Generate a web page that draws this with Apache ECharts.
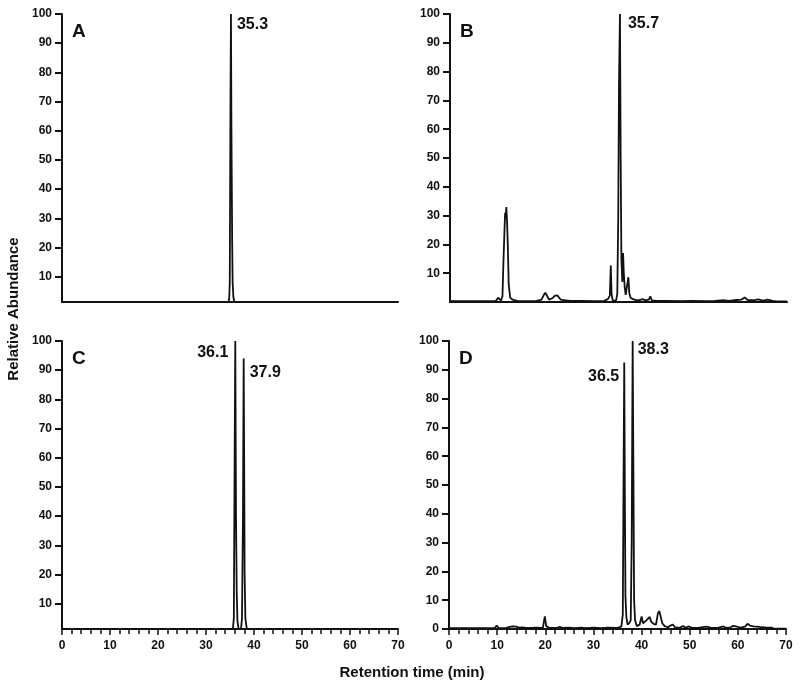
<!DOCTYPE html>
<html>
<head>
<meta charset="utf-8">
<script src="https://cdn.jsdelivr.net/npm/echarts@6/dist/echarts.min.js"></script>
<style>html,body{margin:0;padding:0;background:#fff}#c{width:800px;height:688px}</style>
</head>
<body>
<div id="c"></div>
<script>
// ---- data ----
const timeA = [0, 34.7, 34.85, 34.95, 35.1, 35.2, 35.3, 35.45, 35.55, 35.7, 35.9, 70];
const absA  = [1.3, 1.3, 3, 8, 70, 100, 60, 22, 8, 3, 1.3, 1.3];

const timeB = [0, 9.5, 10.0, 10.3, 10.6, 10.9, 11.1, 11.3, 11.45, 11.55, 11.7, 11.85, 12.0, 12.2, 12.5, 13.0, 14, 16, 18,
  19.0, 19.5, 19.8, 20.2, 20.6, 21.0, 21.4, 21.8, 22.3, 22.7, 23.0, 24, 25, 27, 30, 32, 32.8, 33.2, 33.4, 33.55, 33.8,
  34.5, 34.75, 34.95, 35.1, 35.3, 35.45, 35.6, 35.8, 35.95, 36.1, 36.3, 36.5, 36.8, 37.05, 37.25, 37.5, 38.0, 38.4, 38.8,
  39.5, 40.0, 40.5, 41.3, 41.6, 41.9, 43, 45, 48, 50, 53, 55, 57, 58, 59.5, 60.5, 61.2, 61.8, 63, 64, 65, 66, 67, 68, 70];
const absB  = [0.3, 0.3, 1.5, 1.8, 0.5, 2, 14, 24, 31, 29, 33, 28, 20, 6, 1.5, 0.8, 0.4, 0.3, 0.4,
  0.8, 2.5, 3.2, 2.0, 0.8, 0.5, 1.5, 2.2, 2.3, 1.8, 0.8, 0.6, 0.4, 0.4, 0.3, 0.4, 1.0, 2.2, 12.7, 3, 0.5,
  0.5, 3, 30, 75, 100, 50, 15, 7, 17, 10, 5, 2.5, 3, 8.6, 3, 1.5, 1, 1.3, 0.6,
  0.7, 1, 0.6, 0.8, 2, 0.6, 0.4, 0.4, 0.3, 0.4, 0.3, 0.4, 0.6, 0.4, 0.7, 0.8, 1.6, 0.7, 0.6, 0.9, 0.5, 0.8, 0.4, 0.2, 0.2];

const timeC = [0, 35.6, 35.8, 35.95, 36.1, 36.25, 36.4, 36.55, 36.8, 37.3, 37.5, 37.7, 37.85, 37.95, 38.05, 38.2, 38.5, 70];
const absC  = [1.3, 1.3, 5, 55, 100, 40, 14, 4, 1.3, 1.3, 5, 40, 94, 60, 20, 5, 1.3, 1.3];

const timeD = [0, 9.5, 9.9, 10.3, 11.8, 12.1, 12.6, 13.2, 13.6, 14.0, 14.5, 15.2, 16.0, 17, 18, 19.5, 19.9, 20.2, 20.8,
  22.5, 23.0, 23.5, 25, 26, 27.5, 28.5, 30, 31.5, 33, 35, 35.8, 36.1, 36.25, 36.4, 36.55, 36.65, 36.85, 37.1, 37.5,
  37.75, 37.95, 38.15, 38.3, 38.45, 38.65, 39.0, 39.6, 40.0, 40.3, 40.7, 41.0, 41.4, 41.7, 42.0, 42.5, 43.0, 43.4,
  43.7, 44.0, 44.3, 44.8, 45.5, 46.0, 46.5, 47.0, 48, 48.6, 49.2, 49.7, 50.5, 52, 53.5, 54.5, 56, 57.0, 57.5, 58.5,
  59.0, 59.6, 60.5, 61.5, 62.0, 62.5, 63.2, 64, 65, 66, 67, 67.5, 70];
const absD  = [0.3, 0.3, 1.2, 0.4, 0.3, 0.9, 0.7, 0.9, 0.5, 0.8, 0.5, 0.6, 0.4, 0.4, 0.5, 0.4, 4.4, 1, 0.4,
  0.4, 0.8, 0.4, 0.5, 0.3, 0.5, 0.3, 0.5, 0.3, 0.5, 0.4, 0.8, 5, 50, 92.5, 40, 11.5, 4, 1.5, 2.2,
  3, 30, 100, 55, 10, 3, 1, 1.5, 4.4, 2, 1.5, 3, 3.3, 4.2, 2.5, 1.8, 1.5, 5.5,
  6.2, 6, 2, 1, 0.6, 1.2, 1.5, 0.5, 0.5, 1, 0.4, 0.9, 0.4, 0.5, 0.8, 0.4, 0.5, 0.9, 0.4, 0.6,
  1.1, 0.9, 0.5, 0.8, 1.8, 1.2, 0.9, 0.8, 0.6, 0.5, 0.5, 0.1, 0.1];

// peak annotations
const peakTimeA = [35.2],  peakAbsA = [100],      peakTextA = ['35.3'];
const peakTimeB = [35.3],  peakAbsB = [100],      peakTextB = ['35.7'];
const peakTimeC = [36.1, 37.85], peakAbsC = [100, 94], peakTextC = ['36.1', '37.9'];
const peakTimeD = [36.4, 38.15], peakAbsD = [92.5, 100], peakTextD = ['36.5', '38.3'];

const panelLetters = ['A', 'B', 'C', 'D'];
const yTicksNoZero = [10, 20, 30, 40, 50, 60, 70, 80, 90, 100];
const yTicksZero = [0, 10, 20, 30, 40, 50, 60, 70, 80, 90, 100];
const xTitle = 'Retention time (min)';
const yTitle = 'Relative Abundance';

// ---- chart ----
const FF = '"Liberation Sans", Arial, Helvetica, sans-serif';
const INK = '#111';
const zip = (t, v) => t.map((x, i) => [x, v[i]]);

const grids = [
  {left: 62, top: 14, width: 336, height: 288},
  {left: 450, top: 14, width: 337, height: 288},
  {left: 62, top: 341, width: 336, height: 288},
  {left: 449, top: 341, width: 337, height: 288}
];
const yMins = [1.3, 0, 1.3, 0];
const yTickSets = [yTicksNoZero, yTicksNoZero, yTicksNoZero, yTicksZero];

const xAxes = grids.map((g, i) => ({
  type: 'value', gridIndex: i, min: 0, max: 70, interval: 10,
  axisLine: {show: true, lineStyle: {color: INK, width: 2}},
  axisTick: {show: i >= 2, length: 6, lineStyle: {color: INK, width: 1.5}},
  minorTick: {show: i >= 2, splitNumber: 5, length: 5, lineStyle: {color: INK, width: 1.5}},
  axisLabel: {show: i >= 2, fontFamily: FF, fontWeight: 'bold', fontSize: 12, color: INK, margin: 11},
  splitLine: {show: false}
}));
const yAxes = grids.map((g, i) => ({
  type: 'value', gridIndex: i, min: yMins[i], max: 100,
  axisLine: {show: true, lineStyle: {color: INK, width: 2}},
  axisTick: {show: true, length: 7, lineStyle: {color: INK, width: 2}, customValues: yTickSets[i]},
  axisLabel: {fontFamily: FF, fontWeight: 'bold', fontSize: 12, color: INK, margin: 10, customValues: yTickSets[i]},
  splitLine: {show: false}
}));

const traces = [zip(timeA, absA), zip(timeB, absB), zip(timeC, absC), zip(timeD, absD)];
const series = traces.map((d, i) => ({
  type: 'line', xAxisIndex: i, yAxisIndex: i, data: d, showSymbol: false, symbol: 'none',
  lineStyle: {color: INK, width: 1.8}, animation: false, z: 3
}));

// annotation label placement (style)
const annPlace = [
  [{position: 'right', distance: 6, offset: [0, 11]}],
  [{position: 'right', distance: 8, offset: [0, 10]}],
  [{position: 'left', distance: 7, offset: [0, 11.5]}, {position: 'right', distance: 6, offset: [0, 14]}],
  [{position: 'left', distance: 5, offset: [0, 14]}, {position: 'right', distance: 5, offset: [0, 8.5]}]
];
const peaks = [
  [peakTimeA, peakAbsA, peakTextA],
  [peakTimeB, peakAbsB, peakTextB],
  [peakTimeC, peakAbsC, peakTextC],
  [peakTimeD, peakAbsD, peakTextD]
];
peaks.forEach(([t, v, txt], i) => {
  series.push({
    type: 'scatter', xAxisIndex: i, yAxisIndex: i, symbolSize: 0, animation: false, silent: true,
    itemStyle: {color: INK}, z: 5,
    data: t.map((x, k) => ({
      value: [x, v[k]],
      label: Object.assign({show: true, formatter: txt[k], fontFamily: FF, fontWeight: 'bold', fontSize: 16, color: INK, opacity: 1}, annPlace[i][k])
    }))
  });
});

const titles = panelLetters.map((L, i) => ({
  text: L, left: grids[i].left + 10, top: grids[i].top + 8, padding: 0,
  textStyle: {fontFamily: FF, fontWeight: 'bold', fontSize: 19, color: INK}
}));

const chart = echarts.init(document.getElementById('c'), null, {renderer: 'canvas'});
chart.setOption({
  backgroundColor: '#fff',
  animation: false,
  title: titles,
  grid: grids,
  xAxis: xAxes,
  yAxis: yAxes,
  series: series,
  graphic: [
    {type: 'text', x: 412, y: 673, style: {text: xTitle, textAlign: 'center', textVerticalAlign: 'middle', font: 'bold 15px ' + FF, fill: INK}},
    {type: 'text', x: 14, y: 309, rotation: Math.PI / 2, style: {text: yTitle, textAlign: 'center', textVerticalAlign: 'middle', font: 'bold 15px ' + FF, fill: INK}}
  ]
});
</script>
</body>
</html>
